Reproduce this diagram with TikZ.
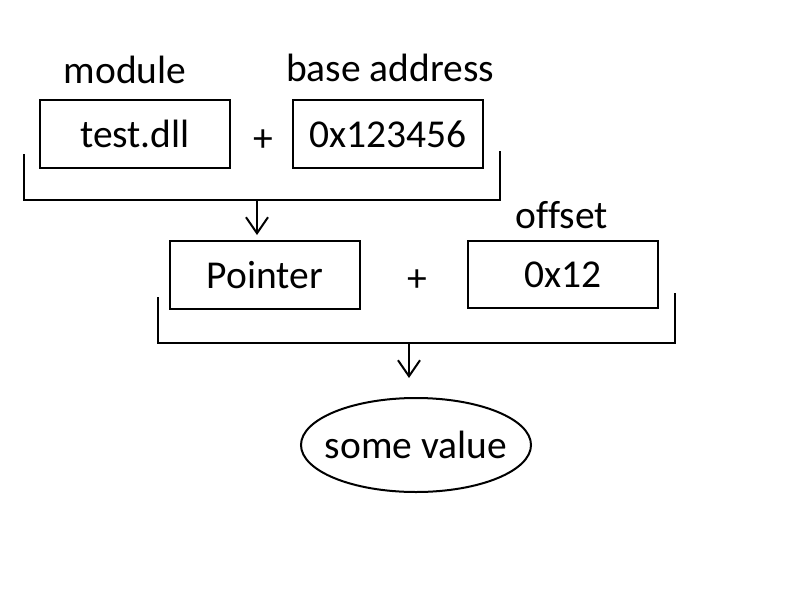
\documentclass[tikz,border=0pt]{standalone}
\usepackage{fontspec}
\setmainfont{Carlito}[Ligatures=NoCommon]
\usetikzlibrary{shapes.geometric,arrows.meta}
\begin{document}
\begin{tikzpicture}[x=1pt,y=-1pt,
  box/.style={draw,line width=1.5pt,minimum width=190pt,minimum height=68pt,inner sep=0pt,font=\fontsize{39.5}{44}\selectfont},
  lbl/.style={font=\fontsize{39.5}{44}\selectfont,inner sep=0pt},
  brk/.style={line width=2.6pt,line cap=rect},
  arr/.style={line width=2pt,-{Straight Barb[length=16pt,width=22pt,line width=2pt]}},
  oval/.style={draw,ellipse,line width=2pt,minimum width=230pt,minimum height=94pt,inner xsep=-12pt,inner ysep=0pt,font=\fontsize{39.5}{44}\selectfont}]
\useasboundingbox[fill=white] (0,0) rectangle (800,600);
% row 1
\node[lbl] (modl) at (125,70) {module};
\node[lbl] (basel) at (390,68) {base address};
\node[box] (dll) at (135,134) {test.dll};
\node[box] (base) at (388,134) {0x123456};
\node[lbl] (plus1) at (263,141) {+};
% bracket 1
\coordinate (L1t) at (24,155);
\coordinate (L1b) at (24,200);
\coordinate (R1b) at (500,200);
\coordinate (R1t) at (500,152);
\coordinate (A1s) at (257,200);
\coordinate (A1e) at (257,235);
\draw[brk] (L1t) -- (L1b) -- (R1b) -- (R1t);
\draw[arr] (A1s) -- (A1e);
% row 2
\node[box] (ptr) at (265,275) {Pointer};
\node[box,minimum height=67pt] (off) at (563,274.5) {0x12};
\node[lbl] (plus2) at (417,281) {+};
\node[lbl] (offl) at (562,215) {offset};
% bracket 2
\coordinate (L2t) at (158,298);
\coordinate (L2b) at (158,343);
\coordinate (R2b) at (675,343);
\coordinate (R2t) at (675,294);
\coordinate (A2s) at (409,343);
\coordinate (A2e) at (409,378);
\draw[brk] (L2t) -- (L2b) -- (R2b) -- (R2t);
\draw[arr] (A2s) -- (A2e);
% result
\node[oval] (val) at (416,445) {some value};
\end{tikzpicture}
\end{document}
